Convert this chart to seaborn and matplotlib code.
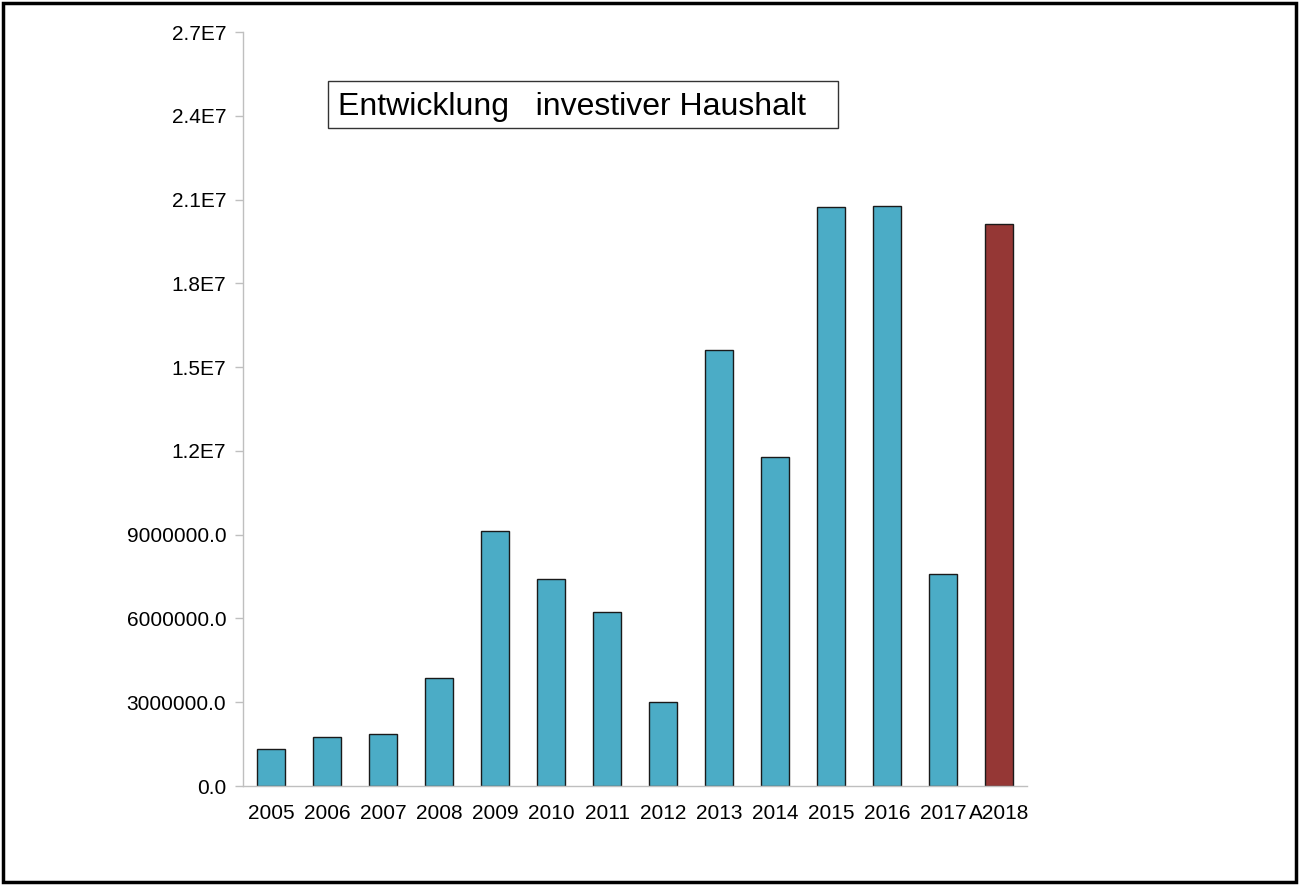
import numpy as np
import pandas as pd
import seaborn as sns
import matplotlib.pyplot as plt
from matplotlib.patches import Rectangle
from matplotlib.ticker import FuncFormatter, FixedLocator

# values
years = ["2005", "2006", "2007", "2008", "2009", "2010", "2011", "2012",
         "2013", "2014", "2015", "2016", "2017", "A2018"]
amounts = [1.34e6, 1.75e6, 1.85e6, 3.87e6, 9.12e6, 7.40e6, 6.22e6, 3.00e6,
           15.63e6, 11.77e6, 20.72e6, 20.76e6, 7.58e6, 20.11e6]
bar_colors = ["#4BACC6"] * 13 + ["#953735"]
title_text = "Entwicklung   investiver Haushalt"

df = pd.DataFrame({"year": years, "amount": amounts})

sns.set_style("white")
plt.rcParams['font.family'] = ['Liberation Sans', 'DejaVu Sans']
plt.rcParams['text.color'] = 'black'

fig = plt.figure(figsize=(12.99, 8.85), dpi=100)
ax = fig.add_axes([243 / 1299, 1 - 786 / 885, (1027 - 243) / 1299, (786 - 32) / 885])

sns.barplot(data=df, x="year", y="amount", hue="year", palette=bar_colors,
            width=0.5, edgecolor="#1a1a1a", linewidth=1, legend=False, ax=ax,
            saturation=1)

ax.set_xlim(-0.5, len(years) - 0.5)
ax.set_ylim(0, 2.7e7)
ax.set_yticks(np.arange(0, 2.71e7, 3e6))


def fmt(v, pos):
    if v < 1e7:
        return f"{v:.1f}"
    return f"{v / 1e7:.1f}E7"


ax.yaxis.set_major_formatter(FuncFormatter(fmt))
ax.xaxis.set_minor_locator(FixedLocator(np.arange(-0.5, len(years), 1.0)))
ax.tick_params(axis="x", which="major", length=0, pad=13, labelsize=15, labelcolor="black")
ax.tick_params(axis="x", which="minor", length=6, color="#BFBFBF", width=1, direction="out")
ax.tick_params(axis="y", which="major", length=6, color="#BFBFBF", width=1,
               direction="out", pad=6, labelsize=15, left=True, labelcolor="black")
ax.set_xlabel("")
ax.set_ylabel("")

for side in ["top", "right"]:
    ax.spines[side].set_visible(False)
for side in ["left", "bottom"]:
    ax.spines[side].set_color("#BFBFBF")
    ax.spines[side].set_linewidth(1)

# title box
fig.patches.append(Rectangle((328 / 1299, 1 - 128 / 885), (838 - 328) / 1299, 47 / 885,
                             transform=fig.transFigure, facecolor="white",
                             edgecolor="#333333", linewidth=1))
fig.text(338 / 1299, 1 - 107 / 885, title_text, fontsize=23, va="center", ha="left",
         color="black")

# outer frame
fig.patches.append(Rectangle((0.002, 0.003), 0.996, 0.994, transform=fig.transFigure,
                             fill=False, edgecolor="black", linewidth=2.5))

fig.savefig("out.png", dpi=100)
